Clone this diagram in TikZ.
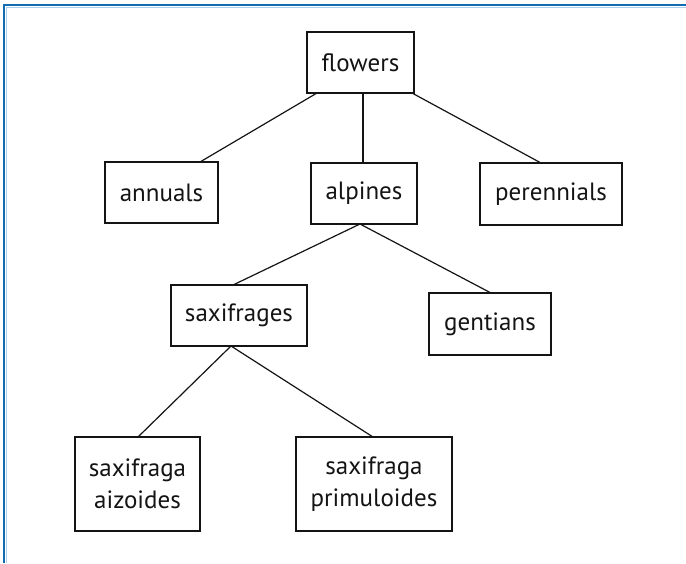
\documentclass[tikz,border=0pt]{standalone}
\usepackage{fontspec}
\setmainfont{PT Sans}
\definecolor{frameblue}{RGB}{18,108,178}
\definecolor{framelight}{RGB}{170,210,238}
\definecolor{ink}{RGB}{20,20,20}
\begin{document}
\begin{tikzpicture}[x=1pt,y=-1pt,
  box/.style={draw=ink,line width=1.4pt,rectangle,inner sep=0pt,outer sep=0pt,
    font=\fontsize{25}{32}\selectfont,text=ink,align=center},
  link/.style={draw=ink,line width=1.2pt}]
\useasboundingbox (0,0) rectangle (686,563);
\fill[white] (0,0) rectangle (686,563);
% frame
\draw[framelight,line width=1pt] (6.5,7) -- (686,7);
\draw[framelight,line width=1pt] (6,7) -- (6,563);
\draw[frameblue,line width=2.4pt] (4,5) -- (686,5);
\draw[frameblue,line width=2.4pt] (4,3.8) -- (4,563);
% nodes
\node[box,minimum width=107pt,minimum height=61pt] (flowers) at (360.5,62.5) {flowers};
\node[box,minimum width=113pt,minimum height=61pt] (annuals) at (161.5,192.5) {annuals};
\node[box,minimum width=106pt,minimum height=61pt] (alpines) at (364,193.5) {alpines};
\node[box,minimum width=142pt,minimum height=62pt] (perennials) at (551,194) {perennials};
\node[box,minimum width=136pt,minimum height=61pt] (saxifrages) at (239,315.5) {saxifrages};
\node[box,minimum width=122pt,minimum height=62pt] (gentians) at (490,324) {gentians};
\node[box,minimum width=125pt,minimum height=94pt] (aizoides) at (137.5,484) {saxifraga\\aizoides};
\node[box,minimum width=156pt,minimum height=94pt] (primuloides) at (374,484) {saxifraga\\primuloides};
% connectors
\draw[link] ([xshift=-43.5pt]flowers.south) -- ([xshift=38.5pt]annuals.north);
\draw[link] ([xshift=2.5pt]flowers.south) -- ([xshift=-1pt]alpines.north);
\draw[link] ([xshift=51.5pt]flowers.south) -- ([xshift=-10pt]perennials.north);
\draw[link] ([xshift=-4pt]alpines.south) -- ([xshift=-6pt]saxifrages.north);
\draw[link] ([xshift=-4pt]alpines.south) -- ([xshift=1pt]gentians.north);
\draw[link] ([xshift=-8pt]saxifrages.south) -- ([xshift=0.5pt]aizoides.north);
\draw[link] ([xshift=-8pt]saxifrages.south) -- ([xshift=-1pt]primuloides.north);
\end{tikzpicture}
\end{document}
